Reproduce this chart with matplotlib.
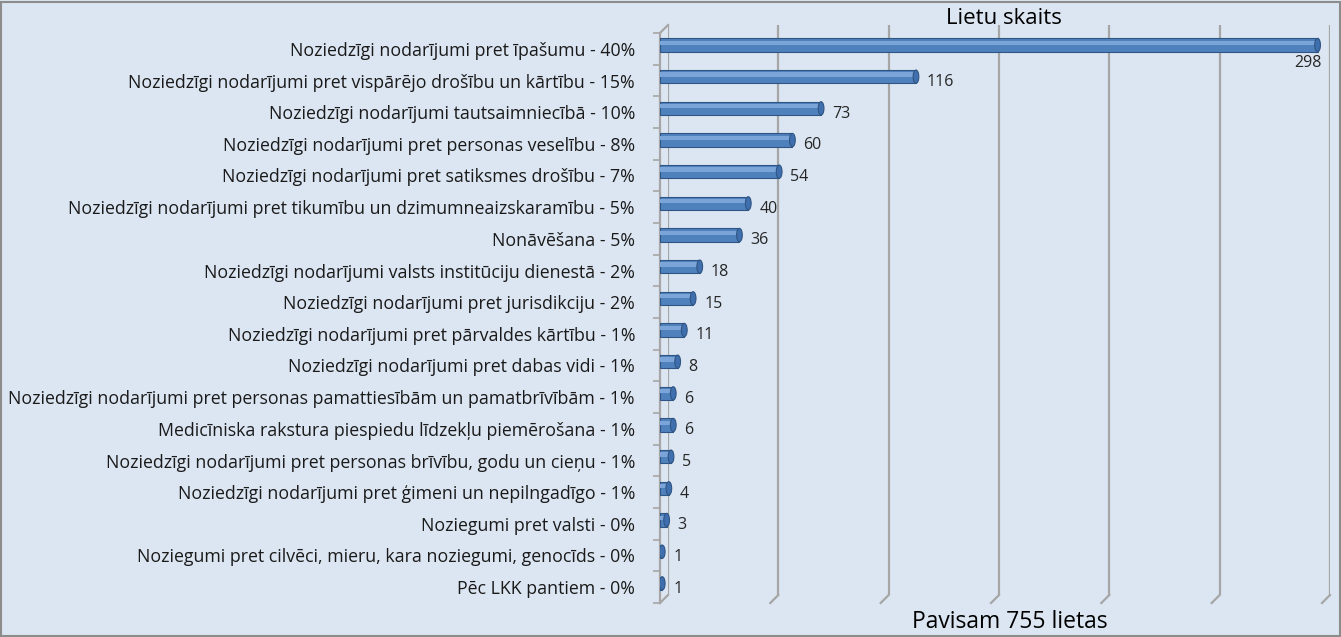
import matplotlib.pyplot as plt
from matplotlib.lines import Line2D
from matplotlib.patches import Rectangle, Ellipse

plt.rcParams['font.family'] = ['Open Sans', 'DejaVu Sans']

# Data
categories = [
    'Noziedzīgi nodarījumi pret īpašumu - 40%',
    'Noziedzīgi nodarījumi pret vispārējo drošību un kārtību - 15%',
    'Noziedzīgi nodarījumi tautsaimniecībā - 10%',
    'Noziedzīgi nodarījumi pret personas veselību - 8%',
    'Noziedzīgi nodarījumi pret satiksmes drošību - 7%',
    'Noziedzīgi nodarījumi pret tikumību un dzimumneaizskaramību - 5%',
    'Nonāvēšana - 5%',
    'Noziedzīgi nodarījumi valsts institūciju dienestā - 2%',
    'Noziedzīgi nodarījumi pret jurisdikciju - 2%',
    'Noziedzīgi nodarījumi pret pārvaldes kārtību - 1%',
    'Noziedzīgi nodarījumi pret dabas vidi - 1%',
    'Noziedzīgi nodarījumi pret personas pamattiesībām un pamatbrīvībām - 1%',
    'Medicīniska rakstura piespiedu līdzekļu piemērošana - 1%',
    'Noziedzīgi nodarījumi pret personas brīvību, godu un cieņu - 1%',
    'Noziedzīgi nodarījumi pret ģimeni un nepilngadīgo - 1%',
    'Noziegumi pret valsti - 0%',
    'Noziegumi pret cilvēci, mieru, kara noziegumi, genocīds - 0%',
    'Pēc LKK pantiem - 0%',
]
counts = [298, 116, 73, 60, 54, 40, 36, 18, 15, 11, 8, 6, 6, 5, 4, 3, 1, 1]
x_ticks = [0, 50, 100, 150, 200, 250, 300]

W, H = 1341, 637
bg = '#dce6f2'
grid_c = '#a6a6a6'

fig = plt.figure(figsize=(W / 100, H / 100), dpi=100, facecolor=bg)
fig.patches.append(Rectangle((0.001, 0.001), 0.998, 0.996, transform=fig.transFigure,
                             fill=False, edgecolor='#8c8c8c', lw=1.5))

def box(x0, y0, x1, y1):
    return [x0 / W, 1 - y1 / H, (x1 - x0) / W, (y1 - y0) / H]

# back wall (gridlines)
back = fig.add_axes(box(668, 25, 1330, 595))
back.set_xlim(0, 300)
back.set_ylim(0, 1)
back.patch.set_visible(False)
for s in back.spines.values():
    s.set_visible(False)
back.set_xticks([])
back.set_yticks([])
for t in x_ticks:
    back.axvline(t, color=grid_c, lw=1.6)

# front plane with bars
ax = fig.add_axes(box(660, 33, 1322, 603))
ax.set_xlim(0, 300)
n = len(categories)
ax.set_ylim(n - 0.5, -0.5)
ax.patch.set_visible(False)
for k in ['top', 'right', 'bottom']:
    ax.spines[k].set_visible(False)
ax.spines['left'].set_color(grid_c)
ax.spines['left'].set_linewidth(1.6)
ax.set_xticks([])
ax.set_yticks(range(n))
ax.set_yticklabels(categories, fontsize=12.8, color='#1a1a1a')
ax.tick_params(axis='y', which='major', length=0, pad=18)
ax.set_yticks([i - 0.5 for i in range(n + 1)], minor=True)
ax.tick_params(axis='y', which='minor', length=5, width=1.2, color=grid_c)

# depth connectors (floor and top-left corner)
for t in x_ticks:
    x_back = 668 + (1330 - 668) * t / 300
    fig.add_artist(Line2D([x_back / W, (x_back - 8) / W], [1 - 595 / H, 1 - 603 / H],
                          color=grid_c, lw=1.6))
fig.add_artist(Line2D([660 / W, 668 / W], [1 - 33 / H, 1 - 25 / H], color=grid_c, lw=1.6))

# cylinder-like bars
ypos = [i - 0.12 for i in range(n)]
bh = 0.42
ax.barh(ypos, counts, height=bh, color='#4f81bd', edgecolor='#2f5584', lw=0.8, zorder=3)
ax.barh([y - 0.07 for y in ypos], counts, height=0.13, color='#7ba4d8', lw=0, zorder=4)
for y, v in zip(ypos, counts):
    ax.add_patch(Ellipse((v, y), 2.6, bh, facecolor='#3f6fae', edgecolor='#2f5584',
                         lw=0.8, zorder=5))

for i, v in enumerate(counts):
    if i == 0:
        ax.text(v + 2, i + 0.45, str(v), ha='right', va='center', fontsize=11.5, color='#262626')
    else:
        ax.text(v + 5, i + 0.05, str(v), ha='left', va='center', fontsize=11.5, color='#262626')

fig.text(1004 / W, 1 - 19 / H, 'Lietu skaits', ha='center', va='center', fontsize=16, color='black')
fig.text(1010 / W, 1 - 622 / H, 'Pavisam 755 lietas', ha='center', va='center', fontsize=16.5, color='black')

fig.savefig('out.png', dpi=100, facecolor=bg)
